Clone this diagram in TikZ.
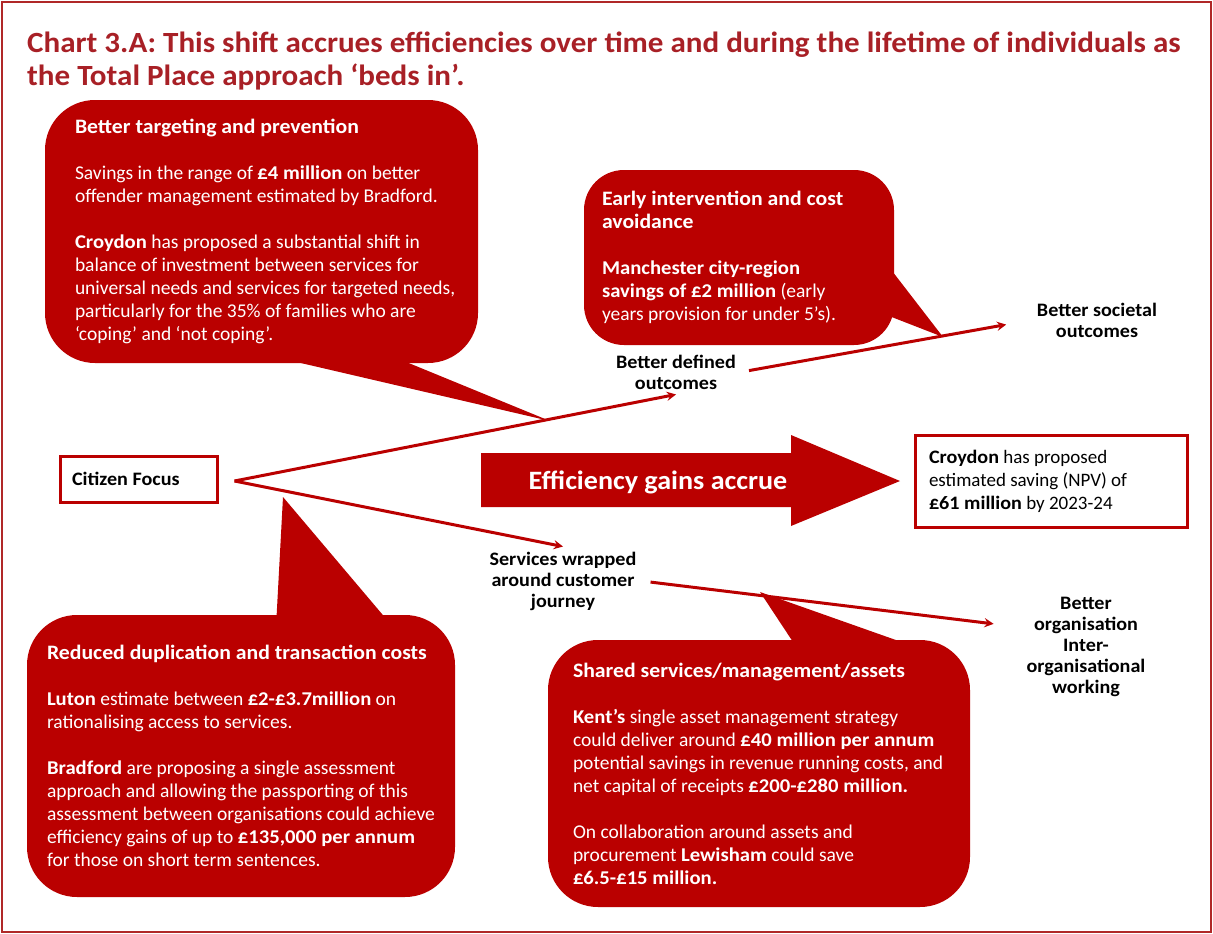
\documentclass[tikz,border=0pt]{standalone}
\usepackage{fontspec}
\setmainfont{Carlito}[BoldFeatures={FakeStretch=1.06}]
\usepackage{xcolor}
\usetikzlibrary{positioning,arrows}
\definecolor{chartred}{RGB}{186,0,0}
\definecolor{titlered}{RGB}{168,32,38}
\definecolor{framered}{RGB}{176,40,40}
\newcommand{\bubblehead}[1]{{\fontsize{20.5}{23}\selectfont\textbf{#1}}}

\begin{document}
\begin{tikzpicture}[
    x=1pt,y=-1pt,
    bubble/.style={rectangle,fill=chartred,rounded corners=50pt,inner sep=0pt},
    bubbletext/.style={inner sep=0pt,align=left,text=white,font=\fontsize{19.5}{23}\selectfont},
    outcome/.style={align=center,inner sep=5pt,font=\bfseries\fontsize{19}{21}\selectfont},
    redbox/.style={rectangle,draw=chartred,line width=3pt,inner sep=0pt,align=flush left},
    arrow/.style={->,>=stealth,line width=3pt,chartred},
    tailfill/.style={fill=chartred}
]
\useasboundingbox (0,0) rectangle (1213,934);
\draw[framered,line width=2.5pt] (2,2) rectangle (1211,932);

\node[anchor=west,inner sep=0pt,align=left,text=titlered,font=\bfseries\fontsize{29.3}{33}\selectfont] (title) at (27,61) {Chart 3.A: This shift accrues efficiencies over time and during the lifetime of individuals as\\the Total Place approach ‘beds in’.};

\node[bubble,minimum width=433pt,minimum height=263pt] (targeting) at (261.5,231.5) {};
\node[bubbletext,right=30pt of targeting.west] (targetingtext) {\bubblehead{Better targeting and prevention}\\[23pt]
Savings in the range of \textbf{£4 million} on better\\
offender management estimated by Bradford.\\[23pt]
\textbf{Croydon} has proposed a substantial shift in\\
balance of investment between services for\\
universal needs and services for targeted needs,\\
particularly for the 35\% of families who are\\
‘coping’ and ‘not coping’.};

\node[bubble,rounded corners=40pt,minimum width=310pt,minimum height=175pt] (early) at (739,257.5) {};
\node[bubbletext,right=18pt of early.west] (earlytext) {\bubblehead{Early intervention and cost}\\
\bubblehead{avoidance}\\[23pt]
\textbf{Manchester city-region}\\
\textbf{savings of £2 million} (early\\
years provision for under 5’s).};

\node[bubble,minimum width=428pt,minimum height=282pt] (duplication) at (241,756) {};
\node[bubbletext,right=20pt of duplication.west] (duplicationtext) {\bubblehead{Reduced duplication and transaction costs}\\[23pt]
\textbf{Luton} estimate between \textbf{£2-£3.7million} on\\
rationalising access to services.\\[23pt]
\textbf{Bradford} are proposing a single assessment\\
approach and allowing the passporting of this\\
assessment between organisations could achieve\\
efficiency gains of up to \textbf{£135,000 per annum}\\
for those on short term sentences.};

\node[bubble,minimum width=422pt,minimum height=267pt] (shared) at (759,773.5) {};
\node[bubbletext,right=25pt of shared.west] (sharedtext) {\bubblehead{Shared services/management/assets}\\[23pt]
\textbf{Kent’s} single asset management strategy\\
could deliver around \textbf{£40 million per annum}\\
potential savings in revenue running costs, and\\
net capital of receipts \textbf{£200-£280 million.}\\[23pt]
On collaboration around assets and\\
procurement \textbf{Lewisham} could save\\
\textbf{£6.5-£15 million.}};

\fill[tailfill] (275,357) -- (550,421) -- (394,357) -- cycle;
\fill[tailfill] (889,267) -- (943,337) -- (889,316) -- cycle;
\fill[tailfill] (276,627) -- (283,497) -- (393,627) -- cycle;
\fill[tailfill] (795,645) -- (760,592) -- (910,645) -- cycle;

\fill[chartred] (481,453) -- (791,453) -- (791,435) -- (900,481) -- (791,526) -- (791,507) -- (481,507) -- cycle;
\node[text=white,font=\bfseries\fontsize{26.5}{30}\selectfont] (gains) at (658,482) {Efficiency gains accrue};

\node[redbox,minimum width=272pt,minimum height=92pt,text width=244pt,inner xsep=14pt,font=\fontsize{19}{23}\selectfont] (croydon) at (1051,481) {\textbf{Croydon} has proposed\\estimated saving (NPV) of\\\textbf{£61 million} by 2023-24};

\node[redbox,minimum width=157pt,minimum height=46pt,text width=133pt,inner xsep=12pt,font=\bfseries\fontsize{19}{21}\selectfont] (citizen) at (138.5,479) {Citizen Focus};
\coordinate (hub) at ([xshift=16pt,yshift=-2pt]citizen.east);

\node[outcome] (defined) at (676,372) {Better defined\\outcomes};
\node[outcome] (societal) at (1097,320) {Better societal\\outcomes};
\node[outcome] (services) at (563,581) {Services wrapped\\around customer\\journey};
\node[outcome] (organisation) at (1086,647) {Better\\organisation\\Inter-\\organisational\\working};

\draw[arrow] (hub) -- (defined.south);
\draw[arrow] (hub) -- (services.north);
\draw[arrow,shorten <=8pt,shorten >=26pt] (defined.east) -- (societal.west);
\draw[arrow,shorten <=9pt,shorten >=28pt] (services.east) -- (organisation.163);

\end{tikzpicture}
\end{document}
